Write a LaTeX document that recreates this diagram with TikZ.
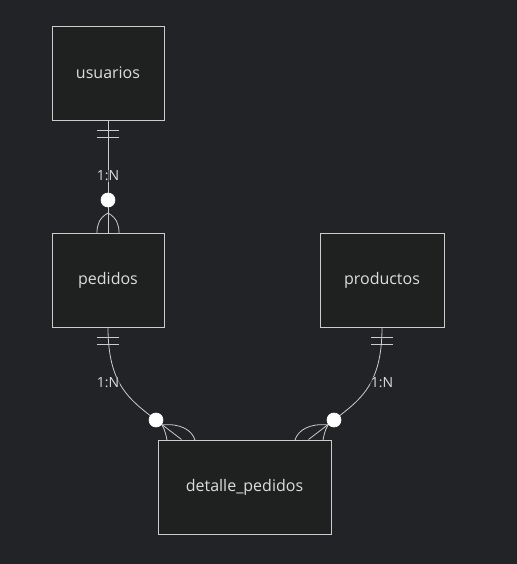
\documentclass[tikz,border=0pt]{standalone}
\usepackage{fontspec}
\setmainfont{Open Sans}
\definecolor{bg}{HTML}{222327}
\definecolor{boxfill}{HTML}{1F2020}
\definecolor{edge}{HTML}{CCCCCC}
\definecolor{txt}{HTML}{DDDDDD}
\tikzset{
  entity/.style={draw=edge,fill=boxfill,line width=0.75pt,text=txt,inner sep=0pt,
    minimum height=70.5pt,font=\fontsize{12}{14}\selectfont},
  rel/.style={draw=edge,line width=0.6pt},
  card/.style={fill=bg,fill opacity=0.6,text opacity=1,text=txt,inner sep=1pt,
    font=\fontsize{10.5}{12}\selectfont},
  dot/.style={circle,fill=white,draw=white,line width=0.5pt,inner sep=0pt,minimum size=10.5pt}
}
\begin{document}
\begin{tikzpicture}[x=0.75pt,y=-0.75pt]
\fill[bg] (0,0) rectangle (517,564);
\useasboundingbox (0,0) rectangle (517,564);
% entities
\node[entity,minimum width=84pt] (usuarios) at (108,73) {usuarios};
\node[entity,minimum width=84pt] (pedidos) at (108,280) {pedidos};
\node[entity,minimum width=93pt] (productos) at (382,280) {productos};
\node[entity,minimum width=129.75pt] (detalle) at (244.5,487) {detalle\_pedidos};
% feet on detalle_pedidos
\coordinate (lfoot) at ([xshift=18pt]detalle.north west);
\coordinate (rfoot) at ([xshift=-17.25pt]detalle.north east);
% usuarios -- pedidos
\draw[rel] (usuarios.south) -- (pedidos.north);
\draw[rel] (97,130) -- (119,130);
\draw[rel] (97,137) -- (119,137);
\draw[rel] (108,213) .. controls (99,218) and (97,225) .. (97,233);
\draw[rel] (108,213) .. controls (117,218) and (119,225) .. (119,233);
% pedidos -- detalle_pedidos
\draw[rel] (pedidos.south) .. controls (108,385) and (130,400) .. (156,420) -- (lfoot);
\draw[rel] (97,337) -- (119,337);
\draw[rel] (97,344) -- (119,344);
\draw[rel] (162,425) .. controls (165,430) and (166,435) .. (167,440);
\draw[rel] (162,425) .. controls (180,423) and (192,430) .. (195,440);
% productos -- detalle_pedidos
\draw[rel] (productos.south) .. controls (382,385) and (360,400) .. (334,420) -- (rfoot);
\draw[rel] (371,337) -- (393,337);
\draw[rel] (371,344) -- (393,344);
\draw[rel] (328,425) .. controls (325,430) and (324,435) .. (323,440);
\draw[rel] (328,425) .. controls (310,423) and (298,430) .. (295,440);
% cardinalities
\node[card] (c1) at (108,176) {1:N};
\node[card] (c2) at (108,383) {1:N};
\node[card] (c3) at (382,383) {1:N};
\node[dot] (o1) at (108,200) {};
\node[dot] (o2) at (156,420) {};
\node[dot] (o3) at (334,420) {};
\end{tikzpicture}
\end{document}
